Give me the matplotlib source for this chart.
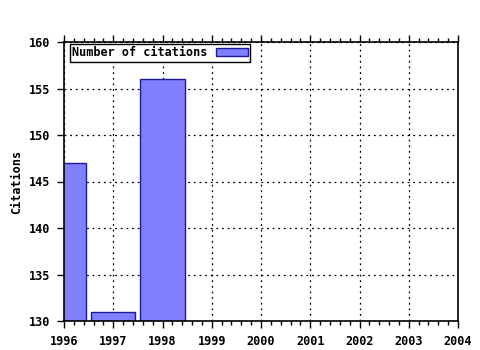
import matplotlib
matplotlib.use("Agg")
import matplotlib.pyplot as plt
from matplotlib.ticker import AutoMinorLocator

years = [1996, 1997, 1998]
citations = [147, 131, 156]
xticks = [1996, 1997, 1998, 1999, 2000, 2001, 2002, 2003, 2004]
yticks = [130, 135, 140, 145, 150, 155, 160]

plt.rcParams['font.family'] = ['DejaVu Sans Mono']
plt.rcParams['font.weight'] = 'bold'
FS = 8.5

fig = plt.figure(figsize=(4.8, 3.5), dpi=100)
ax = fig.add_axes([64/480, 1-321/350, (458-64)/480, (321-42)/350])

ax.bar(years, [c - 130 for c in citations], bottom=130, width=0.9,
       color='#8080ff', edgecolor='#1a1a9a', linewidth=1.0,
       label='Number of citations', zorder=2)

ax.set_xlim(1996, 2004)
ax.set_ylim(130, 160)
ax.set_xticks(xticks)
ax.set_yticks(yticks)
ax.xaxis.set_minor_locator(AutoMinorLocator(5))
ax.grid(True, which='major', linestyle=(0, (1.5, 3)), color='black', linewidth=0.9, zorder=1)
ax.set_axisbelow(True)

ax.tick_params(axis='x', which='both', direction='out', top=True, bottom=True,
               labelsize=FS, width=1, color='black')
ax.tick_params(axis='x', which='major', length=5, pad=5)
ax.tick_params(axis='x', which='minor', length=3)
ax.tick_params(axis='y', which='major', direction='out', left=True, right=False,
               length=5, labelsize=FS, width=1, pad=5)
for lbl in ax.get_xticklabels() + ax.get_yticklabels():
    lbl.set_fontweight('bold')

for s in ax.spines.values():
    s.set_linewidth(1.2)
    s.set_color('black')

ax.set_ylabel('Citations', fontsize=FS, fontweight='bold', labelpad=4)

leg = ax.legend(loc='upper left', bbox_to_anchor=(6/394, 1 - 2/279),
                markerfirst=False, fancybox=False,
                frameon=True, edgecolor='black', framealpha=1,
                prop={'family': 'DejaVu Sans Mono', 'weight': 'bold', 'size': FS},
                borderpad=0.2, handlelength=2.7, handleheight=0.6,
                borderaxespad=0, handletextpad=0.7)
leg.get_frame().set_linewidth(1.0)

fig.savefig('out.png', dpi=100)
